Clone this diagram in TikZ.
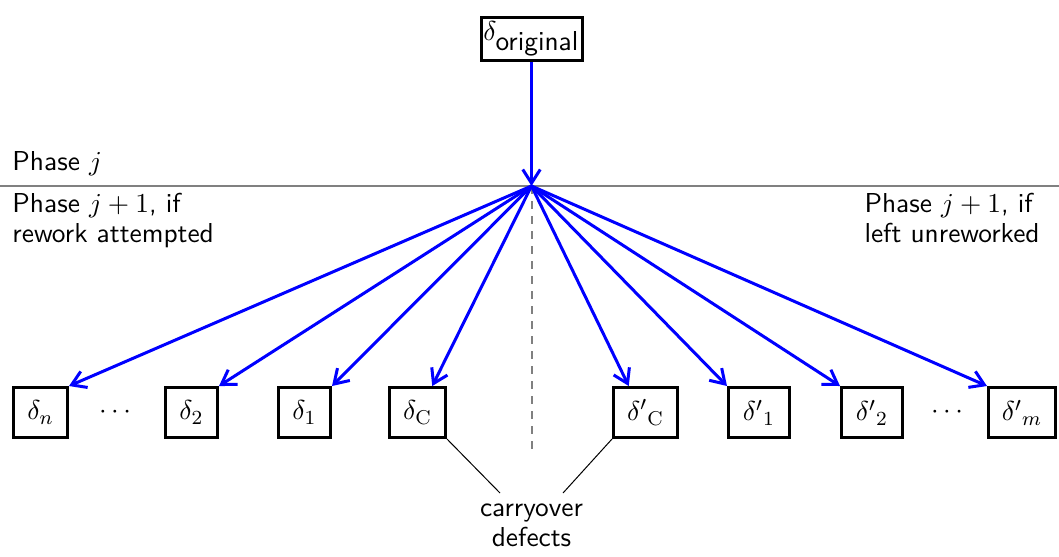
\documentclass[tikz,border=0pt]{standalone}
\usetikzlibrary{arrows.meta,calc}
\begin{document}
\begin{tikzpicture}[x=0.4pt,y=-0.4pt,
  font=\fontsize{10.95pt}{12pt}\selectfont\sffamily,
  dbox/.style={draw=black,line width=1.2pt,inner sep=0pt,minimum height=20pt},
  flow/.style={draw=blue,line width=1.2pt,-{Straight Barb[length=5.5pt,width=7pt,line width=1.2pt]}},
  lbl/.style={inner sep=0pt,align=left},
  thinline/.style={draw=black,line width=0.4pt}
]
\useasboundingbox (0,0) rectangle (1059,556);
% separator
\coordinate (L) at (0,186);
\coordinate (R) at (1059,186);
\coordinate (hub) at (531.5,186);
\coordinate (dashend) at (531.5,450);
\draw[gray,line width=0.8pt] (L) -- (R);
\draw[gray,line width=0.8pt,dashed] (hub) -- (dashend);
% top node
\node[dbox,minimum width=40.4pt,minimum height=17.2pt] (top) at (531.5,39) {$\delta_{\textsf{original}}$};
% bottom nodes
\node[dbox,minimum width=21.6pt] (dn) at (40.5,412.5) {$\delta_n$};
\node[inner sep=0pt] (dotsl) at (115,412) {$\cdots$};
\node[dbox,minimum width=20.8pt] (d2) at (191.5,412.5) {$\delta_2$};
\node[dbox,minimum width=20.8pt] (d1) at (304.5,412.5) {$\delta_1$};
\node[dbox,minimum width=22.4pt] (dC) at (417.5,412.5) {$\delta_{\mathrm{C}}$};
\node[dbox,minimum width=25.6pt] (pC) at (645.5,412.5) {${\delta'}_{\mathrm{C}}$};
\node[dbox,minimum width=24.4pt] (p1) at (759,412.5) {${\delta'}_1$};
\node[dbox,minimum width=24.4pt] (p2) at (872,412.5) {${\delta'}_2$};
\node[inner sep=0pt] (dotsr) at (947,412) {$\cdots$};
\node[dbox,minimum width=26.8pt] (pm) at (1022,412.5) {${\delta'}_m$};
% labels
\node[lbl,anchor=base west] (phj) at (12,170) {Phase $j$};
\node[lbl,anchor=north west] (phl) at (12,193) {Phase $j+1$, if\\rework attempted};
\node[lbl,anchor=north west] (phr) at (864,193) {Phase $j+1$, if\\left unreworked};
\node[inner sep=0pt,align=center,anchor=north] (carry) at (531.5,503) {carryover\\defects};
\coordinate (cl) at (500,493);
\coordinate (cr) at (563,493);
\draw[thinline] (dC.south east) -- (cl);
\draw[thinline] (pC.south west) -- (cr);
% arrows
\draw[flow] (top.south) -- (hub);
\draw[flow] (hub) -- (dn.north east);
\draw[flow] (hub) -- (d2.north east);
\draw[flow] (hub) -- (d1.north east);
\draw[flow] (hub) -- ($(dC.north)!0.5!(dC.north east)$);
\draw[flow] (hub) -- ($(pC.north)!0.5!(pC.north west)$);
\draw[flow] (hub) -- (p1.north west);
\draw[flow] (hub) -- (p2.north west);
\draw[flow] (hub) -- (pm.north west);
\end{tikzpicture}
\end{document}
